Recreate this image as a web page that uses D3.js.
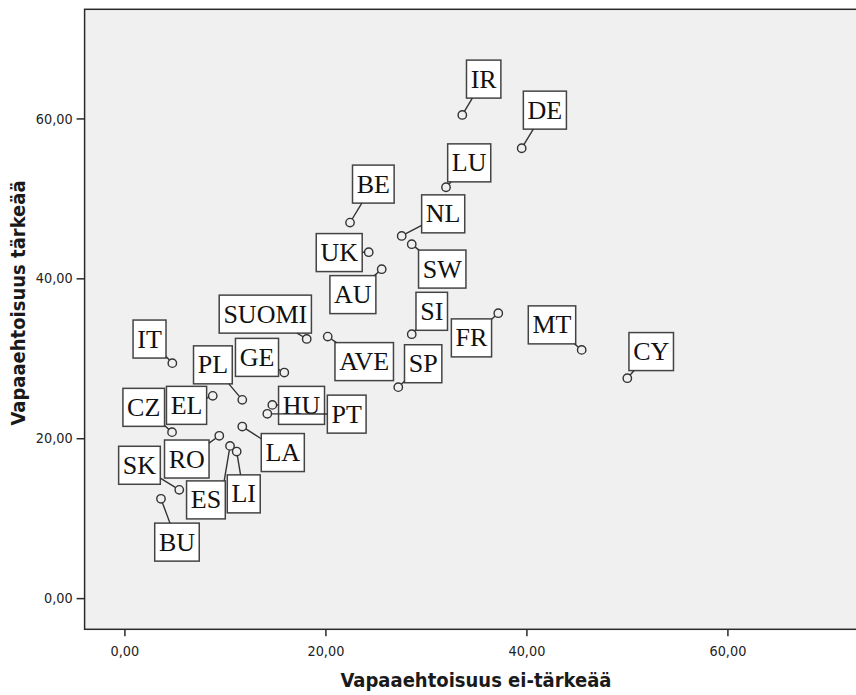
<!DOCTYPE html>
<html>
<head>
<meta charset="utf-8">
<script src="https://cdn.jsdelivr.net/npm/d3@7"></script>
<style>
  html, body { margin: 0; padding: 0; background: #ffffff; }
  svg { display: block; }
</style>
</head>
<body>
<svg id="chart" width="856" height="695"></svg>
<script>
// ---- Data ----
const countries = ["IR","DE","LU","BE","NL","SW","UK","AU","SI","FR","MT","CY","SUOMI","AVE","SP","IT","GE","PL","EL","CZ","HU","PT","LA","RO","LI","ES","SK","BU"];
const notImportant = [33.62,39.53,32.00,22.45,27.59,28.59,24.31,25.60,28.59,37.20,45.50,50.04,18.14,20.23,27.25,4.77,15.91,11.73,8.79,4.74,14.72,14.22,11.73,9.44,11.17,10.51,5.46,3.64];
const important   = [60.44,56.27,51.39,46.97,45.30,44.27,43.27,41.14,33.01,35.64,31.05,27.51,32.42,32.71,26.39,29.39,28.21,24.80,25.30,20.76,24.17,23.05,21.46,20.30,18.33,19.04,13.54,12.42];
const xTicks = [0,20,40,60];
const yTicks = [0,20,40,60];
const xTitle = "Vapaaehtoisuus ei-tärkeää";
const yTitle = "Vapaaehtoisuus tärkeää";

// ---- Layout (label box centre offsets in px, optional leader target offset) ----
const labelLayout = [
  [21.4,-35.8],[23.2,-38.1],[23.2,-24.4],[23.3,-38.5],[41.5,-22.1],[30.5,24.9],
  [-29.5,0.4],[-28.8,25.4],[20,-22.9],[-26.8,24.7],[-29.7,-25],[23.9,-26.6],
  [-41.4,-24.8],[36.5,25],[24.9,-23.4],[-22.8,-24.1],[-27.3,-15.2],[-29.4,-35],
  [-26.2,9.5],[-28.3,-24.8],[29.2,0.5],[79.4,0.3],[40.5,26],[-32.5,23.2],
  [7.1,42.3],[-24.1,54,18,-17.3],[-39.8,-24.6],[16,43.3]
];

const plotL = 84.6, plotR = 864.6, plotT = 9.3, plotB = 629.3;
const svg = d3.select("#chart");

const x = d3.scaleLinear().domain([-3.96, 73.65]).range([plotL, plotR]);
const y = d3.scaleLinear().domain([-3.9, 73.65]).range([plotB, plotT]);
const fmt = d => d3.format(".2f")(d).replace(".", ",");

// plot background + frame
svg.append("rect")
  .attr("x", plotL).attr("y", plotT)
  .attr("width", plotR - plotL).attr("height", plotB - plotT)
  .attr("fill", "#f0f0f0").attr("stroke", "#2b2b2b").attr("stroke-width", 1.5);

const tickFont = "'DejaVu Sans Condensed','Liberation Sans Narrow',Arial,sans-serif";

const gx = svg.append("g").attr("transform", `translate(0,${plotB})`)
  .call(d3.axisBottom(x).tickValues(xTicks).tickFormat(fmt).tickSize(7).tickPadding(10));
const gy = svg.append("g").attr("transform", `translate(${plotL},0)`)
  .call(d3.axisLeft(y).tickValues(yTicks).tickFormat(fmt).tickSize(8).tickPadding(4));
[gx, gy].forEach(g => {
  g.select(".domain").remove();
  g.selectAll(".tick line").attr("stroke", "#2b2b2b").attr("stroke-width", 1.5);
  g.selectAll(".tick text").attr("fill", "#222")
    .style("font-family", tickFont).style("font-size", "14.3px");
});

// axis titles
svg.append("text")
  .attr("x", 476).attr("y", 687)
  .attr("text-anchor", "middle")
  .style("font-family", tickFont).style("font-weight", "bold").style("font-size", "20px")
  .attr("fill", "#1a1a1a").text(xTitle);
svg.append("text")
  .attr("transform", `translate(25,303) rotate(-90)`)
  .attr("text-anchor", "middle")
  .style("font-family", tickFont).style("font-weight", "bold").style("font-size", "20px")
  .attr("fill", "#1a1a1a").text(yTitle);

// points data
const pts = countries.map((c, i) => {
  const L = labelLayout[i];
  return { name: c, px: x(notImportant[i]), py: y(important[i]),
           dx: L[0], dy: L[1], ax: L[2] || 0, ay: L[3] || 0 };
});

const labelG = svg.append("g");
const lineG = svg.append("g");
const dotG = svg.append("g");

const boxH = 38, padX = 4.2, r = 4.2;
pts.forEach(p => {
  const cx = p.px + p.dx, cy = p.py + p.dy;
  const g = labelG.append("g");
  const rect = g.append("rect");
  const t = g.append("text")
    .attr("x", cx).attr("y", cy + 8.6)
    .attr("text-anchor", "middle")
    .style("font-family", "'Liberation Serif','Times New Roman',serif")
    .style("font-size", "26px").attr("fill", "#111")
    .text(p.name);
  const w = t.node().getComputedTextLength() + 2 * padX;
  const b = { x0: cx - w / 2, x1: cx + w / 2, y0: cy - boxH / 2, y1: cy + boxH / 2 };
  rect.attr("x", b.x0).attr("y", b.y0).attr("width", w).attr("height", boxH)
    .attr("fill", "#fff").attr("stroke", "#444").attr("stroke-width", 1.5);

  // leader line, point -> box target, clipped at the box edge
  const T = { x: cx + p.ax, y: cy + p.ay };
  const vx = T.x - p.px, vy = T.y - p.py;
  const len = Math.hypot(vx, vy);
  let tx = 0, ty = 0;
  if (p.px < b.x0) tx = (b.x0 - p.px) / vx; else if (p.px > b.x1) tx = (b.x1 - p.px) / vx;
  if (p.py < b.y0) ty = (b.y0 - p.py) / vy; else if (p.py > b.y1) ty = (b.y1 - p.py) / vy;
  const tEnd = Math.min(1, Math.max(tx, ty));
  const tStart = r / len;
  if (tEnd > tStart) {
    lineG.append("line")
      .attr("x1", p.px + vx * tStart).attr("y1", p.py + vy * tStart)
      .attr("x2", p.px + vx * tEnd).attr("y2", p.py + vy * tEnd)
      .attr("stroke", "#333").attr("stroke-width", 1.4);
  }
});

dotG.selectAll("circle").data(pts).join("circle")
  .attr("cx", d => d.px).attr("cy", d => d.py).attr("r", r)
  .attr("fill", "none").attr("stroke", "#333").attr("stroke-width", 1.4);
</script>
</body>
</html>
